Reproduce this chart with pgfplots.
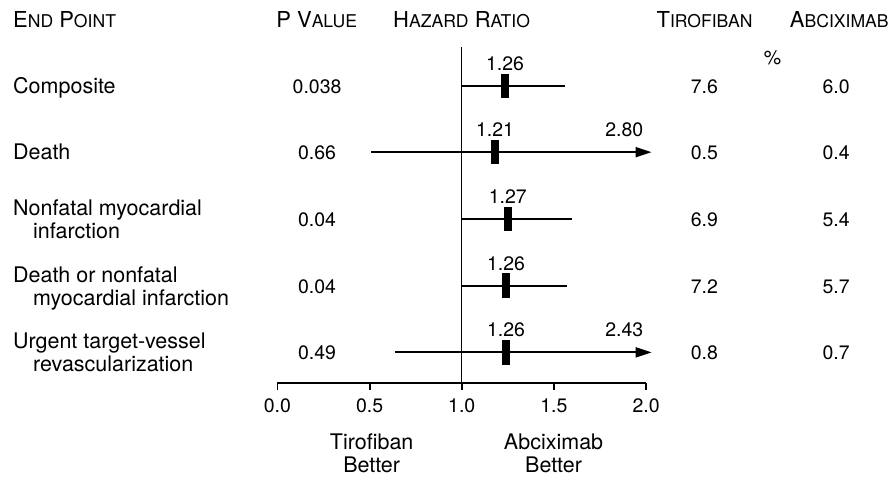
\documentclass[border=0pt]{standalone}
\usepackage{fontspec}
\setmainfont{TeX Gyre Heros}
\usepackage{pgfplots}
\pgfplotsset{compat=1.18}
\usetikzlibrary{arrows.meta}

\newcommand{\bd}{\fontsize{21.5}{24}\selectfont}
\newcommand{\nm}{\fontsize{19.5}{22}\selectfont}
\newcommand{\hd}{\fontsize{22}{24}\selectfont}
\newcommand{\sca}[1]{{\fontsize{17.6}{18}\selectfont #1}}
\tikzset{
  lbl/.style={anchor=base west, inner sep=0pt, font=\bd},
  num/.style={anchor=base, inner sep=0pt, font=\nm},
  hdr/.style={anchor=base, inner sep=0pt, font=\hd},
}

\begin{document}
\begin{tikzpicture}
\begin{axis}[
  scale only axis, width=369pt, height=336pt,
  xmin=0, xmax=2, ymin=-383, ymax=-47,
  axis x line*=bottom, axis y line=none,
  x axis line style={line width=2.2pt},
  xtick={0,0.5,1,1.5,2}, ytick=\empty,
  tick align=outside, major tick length=7pt,
  xtick style={line width=1.8pt, black},
  /pgf/number format/assume math mode=true,
  xticklabel style={/pgf/number format/fixed, /pgf/number format/fixed zerofill,
    /pgf/number format/precision=1, font=\nm, inner sep=0pt, anchor=north, yshift=-8.5pt},
  clip=false,
]
% reference line at 1.0
\addplot[line width=1.4pt] coordinates {(1,-383) (1,-47)};

% confidence intervals
\addplot[line width=1.8pt] coordinates {(1.00,-86) (1.56,-86)};
\addplot[line width=1.8pt, -{Triangle[length=16pt,width=10pt]}] coordinates {(0.51,-152.3) (2.03,-152.3)};
\addplot[line width=1.8pt] coordinates {(1.00,-219.3) (1.60,-219.3)};
\addplot[line width=1.8pt] coordinates {(1.00,-286) (1.57,-286)};
\addplot[line width=1.8pt, -{Triangle[length=16pt,width=10pt]}] coordinates {(0.636,-352.7) (2.03,-352.7)};

% point estimates
\addplot[only marks, mark=square*, mark size=3.8pt, mark options={yscale=3.1, fill=black, draw=black, line width=0pt}]
  coordinates {(1.235,-86) (1.18,-152.3) (1.25,-219.3) (1.24,-286) (1.24,-352.7)};

% headers
\node[hdr, anchor=base west] at (axis cs:-1.4347,-27.7) {E\sca{ND} P\sca{OINT}};
\node[hdr] at (axis cs:0.2130,-27.7) {P V\sca{ALUE}};
\node[hdr] at (axis cs:0.999,-27.7) {H\sca{AZARD} R\sca{ATIO}};
\node[hdr] at (axis cs:2.317,-27.7) {T\sca{IROFIBAN}};
\node[hdr] at (axis cs:3.048,-27.7) {A\sca{BCIXIMAB}};
\node[num] at (axis cs:2.686,-65) {\%};

% row labels
\node[lbl] at (axis cs:-1.4347,-93.5) {Composite};
\node[lbl] at (axis cs:-1.4347,-159.8) {Death};
\node[lbl] at (axis cs:-1.4347,-215.8) {Nonfatal myocardial};
\node[lbl] at (axis cs:-1.3263,-238.8) {infarction};
\node[lbl] at (axis cs:-1.4347,-282.5) {Death or nonfatal};
\node[lbl] at (axis cs:-1.3263,-305.5) {myocardial infarction};
\node[lbl] at (axis cs:-1.4347,-349.2) {Urgent target-vessel};
\node[lbl] at (axis cs:-1.3263,-372.2) {revascularization};

% P values
\node[num] at (axis cs:0.215,-93.5) {0.038};
\node[num] at (axis cs:0.215,-159.8) {0.66};
\node[num] at (axis cs:0.215,-226.8) {0.04};
\node[num] at (axis cs:0.215,-293.5) {0.04};
\node[num] at (axis cs:0.215,-360.2) {0.49};

% tirofiban / abciximab rates
\node[num] at (axis cs:2.316,-93.5) {7.6};
\node[num] at (axis cs:2.316,-159.8) {0.5};
\node[num] at (axis cs:2.316,-226.8) {6.9};
\node[num] at (axis cs:2.316,-293.5) {7.2};
\node[num] at (axis cs:2.316,-360.2) {0.8};
\node[num] at (axis cs:3.031,-93.5) {6.0};
\node[num] at (axis cs:3.031,-159.8) {0.4};
\node[num] at (axis cs:3.031,-226.8) {5.4};
\node[num] at (axis cs:3.031,-293.5) {5.7};
\node[num] at (axis cs:3.031,-360.2) {0.7};

% hazard ratio labels
\node[num] at (axis cs:1.235,-70.5) {1.26};
\node[num] at (axis cs:1.18,-136.8) {1.21};
\node[num] at (axis cs:1.882,-136.8) {2.80};
\node[num] at (axis cs:1.25,-203.8) {1.27};
\node[num] at (axis cs:1.24,-270.5) {1.26};
\node[num] at (axis cs:1.24,-337.2) {1.26};
\node[num] at (axis cs:1.882,-337.2) {2.43};

% favours labels
\node[anchor=base, inner sep=0pt, font=\bd] at (axis cs:0.511,-449.5) {Tirofiban};
\node[anchor=base, inner sep=0pt, font=\bd] at (axis cs:0.511,-472.5) {Better};
\node[anchor=base, inner sep=0pt, font=\bd] at (axis cs:1.498,-449.5) {Abciximab};
\node[anchor=base, inner sep=0pt, font=\bd] at (axis cs:1.498,-472.5) {Better};

\coordinate (bl) at (axis cs:-1.5051,-477);
\coordinate (tr) at (axis cs:3.3447,0);
\end{axis}
\pgfresetboundingbox
\path (bl) rectangle (tr);
\end{tikzpicture}
\end{document}
